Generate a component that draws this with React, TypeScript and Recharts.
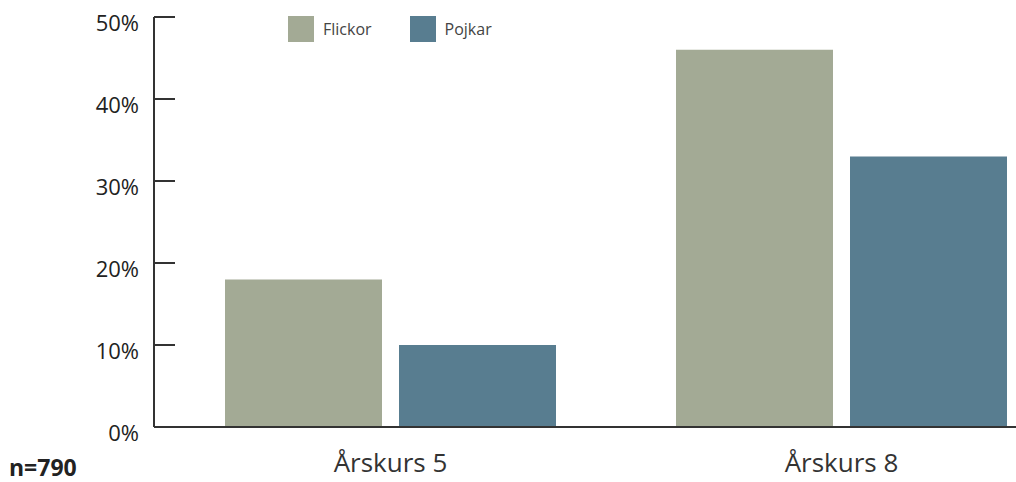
import React from "react";
import { BarChart, Bar, XAxis, YAxis, Legend } from "recharts";

const categories = ["Årskurs 5", "Årskurs 8"];
const flickor = [18, 46];
const pojkar = [10, 33];
const yTicks = [0, 10, 20, 30, 40, 50];
const seriesNames = ["Flickor", "Pojkar"];
const sampleNote = "n=790";

const COLORS = ["#A3AA95", "#587D90"];
const FONT = "'Open Sans', 'DejaVu Sans', sans-serif";

const data = categories.map((c, i) => ({ name: c, Flickor: flickor[i], Pojkar: pojkar[i] }));

const YTick = (props: any) => {
  const { x, y, payload } = props;
  const axisX = x + 15;
  return (
    <g>
      <line x1={axisX} x2={axisX + 21} y1={y} y2={y} stroke="#333" strokeWidth={2} />
      <text x={x} y={y + 14} textAnchor="end" fontSize={22} fill="#222" fontFamily={FONT}>
        {payload.value + "%"}
      </text>
    </g>
  );
};

const XTick = (props: any) => {
  const { x, y, payload } = props;
  return (
    <text x={x} y={y + 37} textAnchor="middle" fontSize={26} fill="#333" fontFamily={FONT}>
      {payload.value}
    </text>
  );
};

const LegendContent = () => (
  <div style={{ display: "flex", alignItems: "center", fontFamily: FONT, fontSize: 16, color: "#444" }}>
    {seriesNames.map((n, i) => (
      <div key={n} style={{ display: "flex", alignItems: "center", marginRight: 38 }}>
        <div style={{ width: 26, height: 26, background: COLORS[i], marginRight: 9 }} />
        <span>{n}</span>
      </div>
    ))}
  </div>
);

export default function App() {
  return (
    <div style={{ position: "absolute", left: 0, top: 0, width: 1016, height: 482, overflow: "hidden", background: "#fff" }}>
      <BarChart
        width={1067}
        height={482}
        data={data}
        margin={{ top: 17, right: 0, bottom: 0, left: 0 }}
        barGap={17}
        barSize={157}
      >
        <XAxis
          dataKey="name"
          height={55}
          padding={{ left: 11, right: 0 }}
          tickLine={false}
          axisLine={{ stroke: "#333", strokeWidth: 2 }}
          tick={<XTick />}
          interval={0}
        />
        <YAxis
          width={154}
          domain={[0, 50]}
          ticks={yTicks}
          tickLine={false}
          tickSize={0}
          tickMargin={15}
          axisLine={{ stroke: "#333", strokeWidth: 2 }}
          tick={<YTick />}
          interval={0}
        />
        <Legend
          layout="horizontal"
          verticalAlign="middle"
          align="center"
          content={<LegendContent />}
          wrapperStyle={{ position: "absolute", top: 16, left: 288, width: "auto", height: 26 }}
        />
        <Bar dataKey="Flickor" fill={COLORS[0]} isAnimationActive={false} />
        <Bar dataKey="Pojkar" fill={COLORS[1]} isAnimationActive={false} />
      </BarChart>
      <div style={{ position: "absolute", left: 9, top: 452, fontFamily: FONT, fontWeight: 700, fontSize: 23, color: "#222", lineHeight: "30px" }}>
        {sampleNote}
      </div>
    </div>
  );
}
